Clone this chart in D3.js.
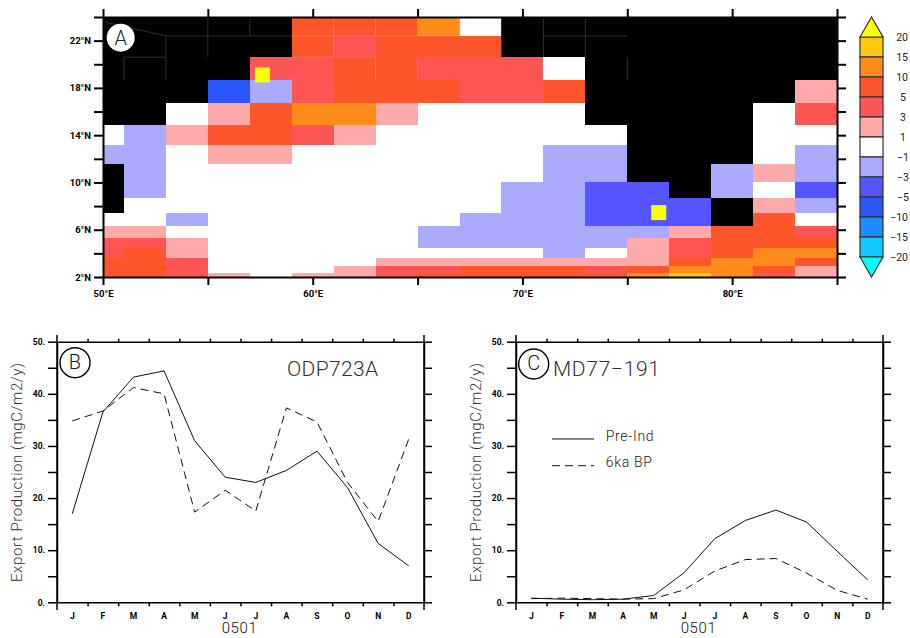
<!DOCTYPE html>
<html><head><meta charset="utf-8">
<script src="https://cdn.jsdelivr.net/npm/d3@7"></script>
<style>html,body{margin:0;padding:0;background:#fff}svg{display:block}text{font-family:"Roboto","Liberation Sans",sans-serif}</style>
</head><body><svg id="c" width="910" height="638"></svg>
<script>
const L = null;
const lonEdges = [50,51,53,55,57,59,61,63,65,67,69,71,73,75,77,79,81,83,85];
const latEdges = [24,22.4,20.6,18.65,16.7,14.9,13.2,11.55,10.05,8.7,7.4,6.3,5.3,4.45,3.6,2.9,2.35,2];
// one representative value per cell, north to south; L = land
const field = [
 [L,L,L,L,L,7,7,7,12,0,L,L,L,L,L,L,L,L],
 [L,L,L,L,L,7,4,7,7,7,L,L,L,L,L,L,L,L],
 [L,L,L,L,4,4,7,7,4,4,4,0,L,L,L,L,L,L],
 [L,L,L,-7,-2,4,7,7,7,4,4,7,L,L,L,L,L,2],
 [L,L,0,2,7,12,12,2,0,0,0,0,L,L,L,L,0,4],
 [0,-2,2,7,7,4,2,0,0,0,0,0,0,L,L,L,0,0],
 [-2,-2,0,2,2,0,0,0,0,0,0,-2,-2,L,L,L,0,-2],
 [L,-2,0,0,0,0,0,0,0,0,0,-2,-2,L,L,-2,2,-2],
 [L,-2,0,0,0,0,0,0,0,0,-2,-2,-4,-4,L,-2,0,-4],
 [L,0,0,0,0,0,0,0,0,0,-2,-2,-4,-4,-4,L,2,-2],
 [0,0,-2,0,0,0,0,0,0,-2,-2,-2,-4,-4,-4,L,7,0],
 [2,2,0,0,0,0,0,0,-2,-2,-2,-2,-2,-2,2,7,7,4],
 [4,4,2,0,0,0,0,0,-2,-2,-2,-2,-2,2,4,7,7,7],
 [4,7,2,0,0,0,0,0,0,0,0,-2,0,2,4,7,12,12],
 [7,7,4,0,0,0,0,2,2,2,2,2,2,2,7,12,12,7],
 [7,7,4,0,0,0,2,4,4,7,7,7,4,7,12,12,7,2],
 [7,7,4,2,0,2,2,4,7,7,7,7,7,12,17,12,4,2]
];
const levels = [-20,-15,-10,-5,-3,-1,1,3,5,10,15,20];
const levelColors = ["#00ffff","#0fc9ff","#1a8cff","#2b55ff","#5555ff","#aaaaff","#ffffff","#ffaaaa","#ff5555","#ff552b","#ff8c1a","#ffc90f","#ffff00"];
const landColor = "#000000";
const landSeams = [[50,23.6,53,22.4],[53,22.4,59,22.4],[53,22.4,53,18.65],[51,20.6,51,18.65],[51,20.6,53,20.6],[55,24,55,20.6],[57,24,57,22.4],[71,22.4,75,22.4],[71,24,71,20.6],[73,24,73,20.6],[75,20.6,75,18.65],[69,24,69,20.6]];
const oceanSeams = [[59,22.4,67,22.4],[61,24,61,20.6],[63,24,63,22.4],[65,24,65,22.4],[67,24,67,22.4],[59,20.6,63,20.6],[63,20.6,63,18.65],[65,20.6,65,18.65]];
const sites = [[57.6,19.1],[76.5,7.45]];
const months = ["J","F","M","A","M","J","J","A","S","O","N","D"];
const odpPreInd = [17,36.5,43.2,44.4,31,24,23,25.3,29,22,11.3,7];
const odp6ka = [34.8,36.7,41.2,40,17.3,21.5,17.5,37.3,34.6,23,15.5,31.3];
const mdPreInd = [0.8,0.6,0.5,0.6,1.3,5.7,12.2,15.7,17.7,15.4,9.8,4.3];
const md6ka = [0.7,0.8,0.7,0.6,0.7,2.4,6,8.2,8.4,5.6,2.3,0.6];
const legendLabels = ["Pre-Ind","6ka BP"];
const yTitle = "Export Production (mgC/m2/y)";

const svg = d3.select("#c");
const x = d3.scaleLinear().domain([50,85]).range([103,837]);
const y = d3.scaleLinear().domain([2,24]).range([277,17]);
const col = d3.scaleThreshold().domain(levels).range(levelColors);
const map = svg.append("g");
field.forEach((row,i)=>row.forEach((v,j)=>{
  map.append("rect").attr("x",x(lonEdges[j])).attr("y",y(latEdges[i]))
    .attr("width",x(lonEdges[j+1])-x(lonEdges[j])).attr("height",y(latEdges[i+1])-y(latEdges[i]))
    .attr("fill",v===L?landColor:col(v)).attr("shape-rendering","crispEdges");
}));
const seam=(arr,c)=>map.selectAll(null).data(arr).enter().append("line")
  .attr("x1",d=>x(d[0])).attr("y1",d=>y(d[1])).attr("x2",d=>x(d[2])).attr("y2",d=>y(d[3]))
  .attr("stroke",c).attr("stroke-width",0.8);
seam(landSeams,"#3a3a3a"); seam(oceanSeams,"rgba(255,255,255,.22)");
map.selectAll(null).data(sites).enter().append("rect")
  .attr("x",d=>x(d[0])-7.5).attr("y",d=>y(d[1])-7.5).attr("width",15).attr("height",15).attr("fill","#ffff00");

const style=(g,w)=>{g.selectAll("path").attr("stroke","#000").attr("stroke-width",w);g.selectAll("line").attr("stroke","#000").attr("stroke-width",w);};
const lonT=d3.range(50,86,5), latT=d3.range(2,25,2);
const lonFmt=d=>d%10===0?d+"°E":"", latFmt=d=>(d-2)%4===0?d+"°N":"";
const mapAxes=[
 [d3.axisBottom(x).tickValues(lonT).tickSize(8).tickPadding(5).tickFormat(lonFmt),0,277],
 [d3.axisTop(x).tickValues(lonT).tickSize(8).tickFormat(""),0,17],
 [d3.axisLeft(y).tickValues(latT).tickSize(9).tickFormat(latFmt),103,0],
 [d3.axisRight(y).tickValues(latT).tickSize(9).tickFormat(""),837,0]];
mapAxes.forEach(([a,tx,ty])=>{
  const g=svg.append("g").attr("transform",`translate(${tx},${ty})`).call(a.tickSizeOuter(0));
  style(g,2);
  g.selectAll("text").attr("fill","#000").attr("font-size",9.5).attr("font-weight",700).attr("font-family","Liberation Sans");
});
svg.append("circle").attr("cx",120.7).attr("cy",37.7).attr("r",14).attr("fill","#fff");
svg.append("text").attr("x",120.7).attr("y",44.5).attr("text-anchor","middle").attr("font-size",20).attr("font-weight",300).attr("fill","#222").text("A");

// colour bar
const barY=d3.scaleBand().domain(d3.range(11)).range([37,257]);
const barTop=levelColors.slice().reverse();
svg.append("g").selectAll("rect").data(barTop.slice(1,12)).enter().append("rect")
  .attr("x",860).attr("width",23).attr("y",(d,i)=>barY(i)).attr("height",barY.bandwidth())
  .attr("fill",d=>d).attr("stroke","#333").attr("stroke-width",1.2);
svg.append("path").attr("d","M860,37L871.5,17L883,37Z").attr("fill",barTop[0]).attr("stroke","#333").attr("stroke-width",1.2);
svg.append("path").attr("d","M860,257L871.5,277L883,257Z").attr("fill",barTop[12]).attr("stroke","#333").attr("stroke-width",1.2);
svg.append("g").selectAll("text").data(levels.slice().reverse()).enter().append("text")
  .attr("x",d=>Math.abs(d)>=10?908:903).attr("y",(d,i)=>37+i*20+4)
  .attr("text-anchor",d=>Math.abs(d)>=10?"end":"middle").attr("font-size",10.5).attr("fill","#222")
  .text(d=>String(d).replace("-","\u2212"));

function panel(x0,x1,solid,dash,letter,cx,cy,title,tx,tw){
  const X=d3.scaleLinear().domain([0,12]).range([x0,x1]);
  const Y=d3.scaleLinear().domain([0,50]).range([602.3,341.7]);
  const g=svg.append("g");
  const mid=i=>X(i+0.5);
  const ln=d3.line().x((d,i)=>mid(i)).y(d=>Y(d));
  const xT=d3.range(1,12), yT=d3.range(0,51,5);
  const fmt=d=>d%10===0?d.toFixed(0)+".":"";
  [[d3.axisLeft(Y).tickValues(yT).tickSize(9).tickFormat(fmt),x0,0],
   [d3.axisRight(Y).tickValues(yT).tickSize(8).tickFormat(""),x1,0],
   [d3.axisBottom(X).tickValues(xT).tickSize(4).tickFormat(""),0,602.3],
   [d3.axisTop(X).tickValues(xT).tickSize(3).tickFormat(""),0,341.7]
  ].forEach(([a,tx0,ty0])=>{
    const h=g.append("g").attr("transform",`translate(${tx0},${ty0})`).call(a.tickSizeOuter(0));
    style(h,1.5);
    h.selectAll("text").attr("fill","#000").attr("font-size",8.5).attr("font-weight",700).attr("font-family","Liberation Sans");
  });
  [x0,x1].forEach(v=>g.append("line").attr("x1",v).attr("x2",v).attr("y1",335).attr("y2",610).attr("stroke","#000").attr("stroke-width",1.5));
  g.selectAll(".m").data(months).enter().append("text").attr("x",(d,i)=>mid(i)).attr("y",618.5)
    .attr("text-anchor","middle").attr("font-size",8.5).attr("font-weight",700).attr("font-family","Liberation Sans").attr("fill","#000").text(d=>d);
  g.append("text").attr("x",(x0+x1)/2-1).attr("y",633).attr("text-anchor","middle").attr("font-size",15).attr("font-weight",300).attr("fill","#111").attr("letter-spacing",0.6).text("0501");
  g.append("text").attr("transform",`translate(${x0-35},472.5) rotate(-90)`).attr("text-anchor","middle").attr("font-size",15).attr("font-weight",300).attr("fill","#333")
    .attr("textLength",219).attr("lengthAdjust","spacing").text(yTitle);
  g.append("path").attr("d",ln(solid)).attr("fill","none").attr("stroke","#111").attr("stroke-width",1);
  g.append("path").attr("d",ln(dash)).attr("fill","none").attr("stroke","#111").attr("stroke-width",1).attr("stroke-dasharray","8 5");
  g.append("circle").attr("cx",cx).attr("cy",cy).attr("r",15).attr("fill","#fff").attr("stroke","#000").attr("stroke-width",1.4);
  g.append("text").attr("x",cx).attr("y",cy+6).attr("text-anchor","middle").attr("font-size",20).attr("font-weight",300).attr("fill","#222").text(letter);
  g.append("text").attr("x",tx).attr("y",375.5).attr("font-size",21).attr("font-weight",300).attr("fill","#333").attr("textLength",tw).attr("lengthAdjust","spacing").text(title);
}
panel(57,424,odpPreInd,odp6ka,"B",75,362.7,"ODP723A",287,91);
panel(516,883,mdPreInd,md6ka,"C",533.7,364,"MD77\u2212191",553,107);

const lg=svg.append("g");
[[439,null,435.7],[465.7,"8 5",461.7]].forEach(([ly,da,ty],i)=>{
  lg.append("line").attr("x1",552).attr("x2",594).attr("y1",ly).attr("y2",ly).attr("stroke","#111").attr("stroke-width",1).attr("stroke-dasharray",da);
  lg.append("text").attr("x",605.7).attr("y",ty+5).attr("font-size",14).attr("font-weight",300).attr("fill","#222").attr("letter-spacing",0.7).text(legendLabels[i]);
});
</script></body></html>
